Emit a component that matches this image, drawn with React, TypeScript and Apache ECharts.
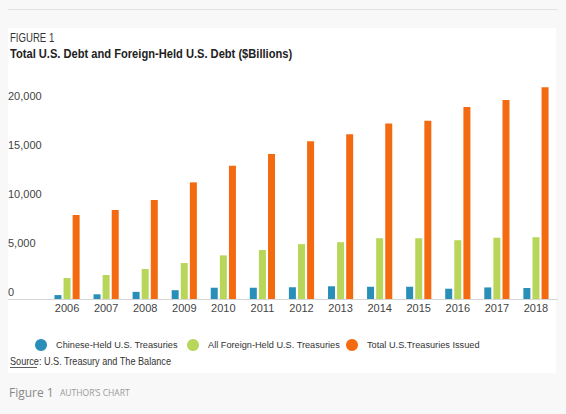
import { useEffect, useRef } from 'react'
import * as echarts from 'echarts'

// values in $ billions
const years = ['2006', '2007', '2008', '2009', '2010', '2011', '2012', '2013', '2014', '2015', '2016', '2017', '2018']
const chineseHeld = [400, 480, 730, 900, 1150, 1150, 1200, 1300, 1250, 1250, 1050, 1180, 1120]
const foreignHeld = [2150, 2450, 3060, 3670, 4450, 5000, 5600, 5800, 6200, 6200, 6000, 6250, 6300]
const totalIssued = [8570, 9080, 10100, 11900, 13600, 14800, 16100, 16800, 17900, 18200, 19600, 20300, 21600]
const seriesNames = ['Chinese-Held U.S. Treasuries', 'All Foreign-Held U.S. Treasuries', 'Total U.S.Treasuries Issued']
const colors = ['#2a8fb8', '#b8d65a', '#f46a10']

const FONT = '"Liberation Sans", Arial, sans-serif'
const legendLefts = [35, 187, 346]

function App() {
  const chartRef = useRef<HTMLDivElement>(null)

  useEffect(() => {
    document.body.style.margin = '0'
    const chart = echarts.init(chartRef.current, null, { renderer: 'svg' })

    const bar = (i: number, data: number[]) => ({
      name: seriesNames[i],
      type: 'bar' as const,
      data,
      barWidth: 7,
      barGap: '30%',
      itemStyle: { color: colors[i] }
    })

    // one legend per item so each sits where the original puts it
    const legends = seriesNames.map((name, i) => ({
      data: [name],
      left: legendLefts[i],
      top: 339,
      padding: 0,
      icon: 'circle',
      itemWidth: 12,
      itemHeight: 12,
      textStyle: { color: '#333', fontSize: 9.2, fontFamily: FONT, padding: [0, 0, 0, 4] }
    }))

    chart.setOption({
      animation: false,
      backgroundColor: '#f8f8f8',
      textStyle: { fontFamily: FONT },
      grid: { left: 47.5, right: 10.5, top: 83.4, bottom: 115 },
      xAxis: {
        type: 'category',
        data: years,
        axisLine: { show: false },
        axisTick: { show: false },
        axisLabel: { color: '#444', fontSize: 11, margin: 3, fontFamily: FONT }
      },
      yAxis: {
        type: 'value',
        min: 0,
        max: 22000,
        interval: 5000,
        splitLine: { show: false },
        axisLine: { show: false },
        axisTick: { show: false },
        axisLabel: {
          showMaxLabel: false,
          align: 'left',
          verticalAlign: 'bottom',
          lineHeight: 14,
          margin: 39.5,
          color: '#444',
          fontSize: 11,
          fontFamily: FONT,
          formatter: (v: number) => v.toLocaleString('en-US')
        }
      },
      legend: legends,
      series: [bar(0, chineseHeld), bar(1, foreignHeld), bar(2, totalIssued)],
      graphic: [
        { type: 'rect', z: -10, shape: { x: 8, y: 28, width: 548, height: 345 }, style: { fill: '#ffffff' } },
        { type: 'line', shape: { x1: 8, y1: 9.5, x2: 558, y2: 9.5 }, style: { stroke: '#e2e2e2', lineWidth: 1 } },
        { type: 'line', shape: { x1: 8, y1: 299.5, x2: 558, y2: 299.5 }, style: { stroke: '#d6d6d6', lineWidth: 1 } },
        {
          type: 'text', x: 10, y: 38, scaleX: 0.8,
          style: { text: 'FIGURE 1', fill: '#333', fontSize: 12, fontFamily: FONT, verticalAlign: 'middle' }
        },
        {
          type: 'text', x: 10, y: 54, scaleX: 0.89,
          style: {
            text: 'Total U.S. Debt and Foreign-Held U.S. Debt ($Billions)',
            fill: '#222', fontSize: 12.5, fontWeight: 'bold', fontFamily: FONT, verticalAlign: 'middle'
          }
        },
        {
          type: 'text', x: 10, y: 361, scaleX: 0.83,
          style: { text: 'Source: U.S. Treasury and The Balance', fill: '#333', fontSize: 11, fontFamily: FONT, verticalAlign: 'middle' }
        },
        { type: 'line', shape: { x1: 10, y1: 367.5, x2: 37, y2: 367.5 }, style: { stroke: '#333', lineWidth: 0.8 } },
        {
          type: 'text', x: 9, y: 392,
          style: { text: 'Figure 1', fill: '#888', fontSize: 12, fontFamily: '"Open Sans", sans-serif', verticalAlign: 'middle' }
        },
        {
          type: 'text', x: 60, y: 392,
          style: { text: 'AUTHOR\u2019S CHART', fill: '#999', fontSize: 8.5, fontFamily: '"Open Sans", sans-serif', verticalAlign: 'middle' }
        }
      ]
    })

    return () => {
      chart.dispose()
    }
  }, [])

  return <div ref={chartRef} style={{ width: '566px', height: '414px' }}></div>
}

export default App
